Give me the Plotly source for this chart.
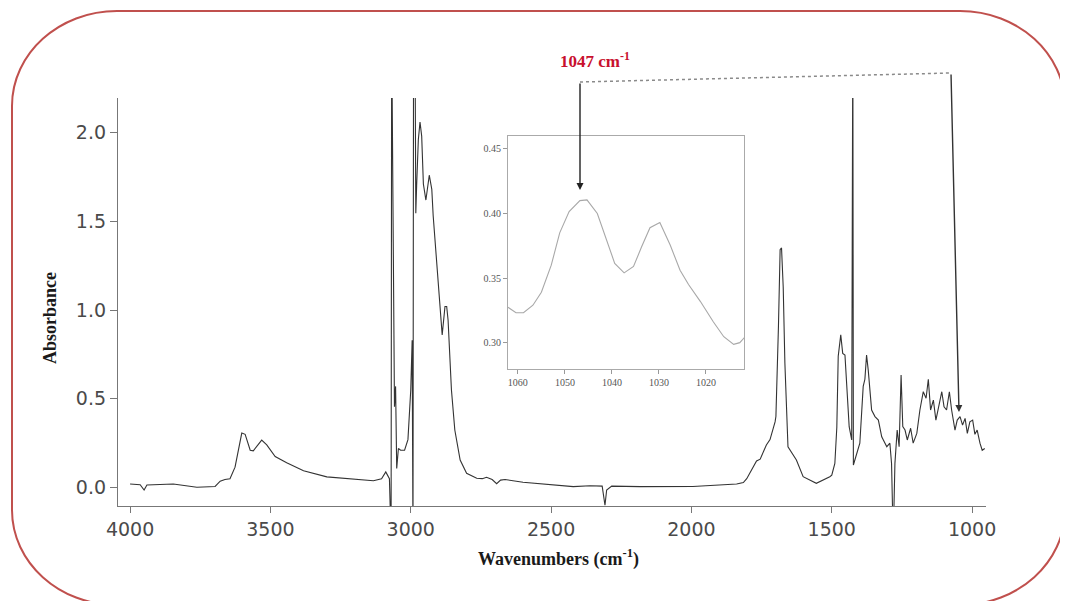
import plotly.graph_objects as go

# ---------------- data ----------------
wavenumber = [4000, 3964, 3950, 3940, 3846, 3762, 3697, 3679, 3662, 3644, 3626, 3602, 3590, 3572,
              3561, 3531, 3513, 3483, 3442, 3382, 3299, 3204, 3133, 3104, 3089, 3076, 3070, 3068,
              3058, 3054, 3050, 3044, 3036, 3022, 3010, 3000, 2995, 2992, 2990, 2985, 2982, 2979,
              2973, 2967, 2961, 2955, 2946, 2934, 2925, 2920, 2908, 2896, 2888, 2878, 2872, 2867,
              2855, 2843, 2824, 2801, 2765, 2745, 2730, 2710, 2694, 2680, 2664, 2600, 2539, 2480,
              2421, 2361, 2318, 2308, 2302, 2284, 2183, 1995, 1898, 1839, 1815, 1803, 1768, 1755,
              1733, 1720, 1702, 1699, 1690, 1684, 1679, 1673, 1667, 1656, 1626, 1602, 1555, 1542,
              1507, 1500, 1489, 1482, 1477, 1468, 1461, 1453, 1447, 1438, 1429, 1425, 1423, 1411,
              1400, 1388, 1382, 1376, 1370, 1358, 1346, 1334, 1322, 1304, 1293, 1287, 1281, 1275,
              1267, 1260, 1253, 1247, 1239, 1231, 1219, 1210, 1197, 1186, 1174, 1164, 1156, 1148,
              1138, 1129, 1118, 1108, 1100, 1091, 1081, 1073, 1061, 1053, 1043, 1034, 1025, 1017,
              1008, 998, 990, 982, 972, 964, 955]
absorbance = [0.020, 0.016, -0.014, 0.014, 0.020, 0.002, 0.006, 0.036, 0.045, 0.050, 0.115, 0.307, 0.300, 0.210,
              0.207, 0.267, 0.240, 0.175, 0.140, 0.095, 0.060, 0.049, 0.038, 0.050, 0.088, 0.050, -0.30, 2.60,
              0.455, 0.570, 0.108, 0.220, 0.210, 0.210, 0.270, 0.550, 0.830, -0.30, 2.60, 2.60, 1.545, 1.70,
              1.96, 2.06, 1.98, 1.71, 1.62, 1.76, 1.68, 1.53, 1.26, 1.04, 0.86, 1.02, 1.02, 0.944,
              0.55, 0.324, 0.155, 0.080, 0.052, 0.050, 0.058, 0.045, 0.022, 0.042, 0.045, 0.030, 0.022, 0.012,
              0.005, 0.010, 0.008, -0.10, -0.014, 0.008, 0.005, 0.006, 0.014, 0.020, 0.028, 0.050, 0.150, 0.160,
              0.240, 0.270, 0.370, 0.400, 0.906, 1.34, 1.35, 1.13, 0.70, 0.23, 0.155, 0.061, 0.024, 0.033,
              0.061, 0.070, 0.136, 0.340, 0.740, 0.860, 0.756, 0.747, 0.606, 0.343, 0.268, 2.60, 0.127, 0.190,
              0.250, 0.570, 0.610, 0.747, 0.660, 0.437, 0.400, 0.380, 0.286, 0.230, 0.250, 0.136, -0.30, 0.136,
              0.324, 0.230, 0.634, 0.343, 0.324, 0.268, 0.334, 0.250, 0.305, 0.437, 0.540, 0.503, 0.610, 0.437,
              0.493, 0.380, 0.455, 0.540, 0.455, 0.437, 0.540, 0.437, 0.324, 0.380, 0.400, 0.352, 0.390, 0.305,
              0.370, 0.380, 0.300, 0.324, 0.250, 0.210, 0.220]

inset_wavenumber = [1062.1, 1060.4, 1058.8, 1056.8, 1055.0, 1052.9, 1051.1, 1049.1, 1046.8, 1045.3,
                    1043.1, 1041.3, 1039.4, 1037.4, 1035.4, 1033.7, 1031.9, 1029.8, 1027.6, 1025.5,
                    1023.7, 1021.2, 1018.4, 1016.2, 1014.1, 1012.8, 1011.8]
inset_absorbance = [0.3274, 0.3232, 0.3232, 0.329, 0.339, 0.360, 0.385, 0.4015, 0.410, 0.4105,
                    0.400, 0.381, 0.3614, 0.354, 0.359, 0.374, 0.389, 0.393, 0.3756, 0.356,
                    0.345, 0.332, 0.316, 0.3046, 0.2987, 0.300, 0.304]

main_xticks = [4000, 3500, 3000, 2500, 2000, 1500, 1000]
main_yticks = [0.0, 0.5, 1.0, 1.5, 2.0]
inset_xticks = [1060, 1050, 1040, 1030, 1020]
inset_yticks = [0.30, 0.35, 0.40, 0.45]
peak_label = "1047 cm<sup>-1</sup>"
x_title = "Wavenumbers (cm<sup>-1</sup>)"
y_title = "Absorbance"

# ---------------- layout helpers (page has an 8px body margin) ----------------
OFF = 8
W, H = 1060, 593
# plot area in page pixels: x 118..986, y 98..506
ML, MT = 118 - OFF, 98 - OFF
MR, MB = W - (986 - OFF), H - (506 - OFF)
PW, PH = W - ML - MR, H - MT - MB


def fx(px):
    return (px - OFF - ML) / PW


def fy(py):
    return 1 - (py - OFF - MT) / PH


fig = go.Figure()
fig.add_trace(go.Scatter(x=wavenumber, y=absorbance, mode="lines",
                         line=dict(color="#333333", width=1.1), showlegend=False,
                         xaxis="x", yaxis="y"))
fig.add_trace(go.Scatter(x=inset_wavenumber, y=inset_absorbance, mode="lines",
                         line=dict(color="#a8a8a8", width=1.1), showlegend=False,
                         xaxis="x2", yaxis="y2"))

sans = "DejaVu Sans"
serif = "Liberation Serif"

fig.update_layout(
    width=W, height=H,
    margin=dict(l=ML, r=MR, t=MT, b=MB),
    paper_bgcolor="white", plot_bgcolor="white",
    xaxis=dict(range=[4043, 950.5], tickvals=main_xticks, ticks="outside", ticklen=6,
               tickcolor="#777", showline=True, linecolor="#777", linewidth=1.3,
               showgrid=False, zeroline=False,
               tickfont=dict(family=sans, size=19, color="#4a4a4a")),
    yaxis=dict(range=[-0.104, 2.195], tickvals=main_yticks, tickformat=".1f", ticks="outside",
               ticklen=7, tickcolor="#777", showline=True, linecolor="#777", linewidth=1.3,
               showgrid=False, zeroline=False,
               tickfont=dict(family=sans, size=19, color="#4a4a4a")),
    xaxis2=dict(domain=[fx(508), fx(744)], anchor="y2", range=[1062.1, 1011.9],
                tickvals=inset_xticks, ticks="outside", ticklen=4, tickcolor="#999",
                showline=True, mirror=True, linecolor="#aaa", linewidth=1,
                showgrid=False, zeroline=False,
                tickfont=dict(family=serif, size=10, color="#555")),
    yaxis2=dict(domain=[fy(369), fy(136)], anchor="x2", range=[0.2796, 0.460],
                tickvals=inset_yticks, tickformat=".2f", ticks="outside", ticklen=4,
                tickcolor="#999", showline=True, mirror=True, linecolor="#aaa", linewidth=1,
                showgrid=False, zeroline=False,
                tickfont=dict(family=serif, size=10, color="#555")),
)

# rounded frame (page pixels)
L, T, R, B = 12, 11, 1065, 605
rx, ry, k = 105, 95, 0.5523


def P(px, py):
    return f"{fx(px):.5f},{fy(py):.5f}"


path = (f"M {P(L + rx, T)} L {P(R - rx, T)} "
        f"C {P(R - rx + k * rx, T)} {P(R, T + ry - k * ry)} {P(R, T + ry)} "
        f"L {P(R, B - ry)} "
        f"C {P(R, B - ry + k * ry)} {P(R - rx + k * rx, B)} {P(R - rx, B)} "
        f"L {P(L + rx, B)} "
        f"C {P(L + rx - k * rx, B)} {P(L, B - ry + k * ry)} {P(L, B - ry)} "
        f"L {P(L, T + ry)} "
        f"C {P(L, T + ry - k * ry)} {P(L + rx - k * rx, T)} {P(L + rx, T)} Z")
fig.add_shape(type="path", path=path, xref="paper", yref="paper",
              line=dict(color="#c0504d", width=2), layer="below")

# dotted connector
fig.add_shape(type="line", xref="paper", yref="paper",
              x0=fx(580), y0=fy(82), x1=fx(951), y1=fy(73),
              line=dict(color="#8a8a8a", width=1.5, dash="dot"))

# arrows
fig.add_annotation(xref="paper", yref="paper", x=fx(580), y=fy(190), ax=0, ay=-108,
                   text="", showarrow=True, arrowhead=2, arrowsize=1, arrowwidth=1.4,
                   arrowcolor="#222")
fig.add_annotation(xref="paper", yref="paper", x=fx(959), y=fy(412), ax=-8, ay=-339,
                   text="", showarrow=True, arrowhead=2, arrowsize=1, arrowwidth=1.4,
                   arrowcolor="#333")

# texts
fig.add_annotation(xref="paper", yref="paper", x=fx(595), y=fy(60), text=f"<b>{peak_label}</b>",
                   xanchor="center", yanchor="middle",
                   showarrow=False, font=dict(family=serif, size=17, color="#c8102e"))
fig.add_annotation(xref="paper", yref="paper", x=fx(558), y=fy(558), text=f"<b>{x_title}</b>",
                   xanchor="center", yanchor="middle",
                   showarrow=False, font=dict(family=serif, size=18, color="#1a1a1a"))
fig.add_annotation(xref="paper", yref="paper", x=fx(50), y=fy(318), text=f"<b>{y_title}</b>",
                   xanchor="center", yanchor="middle",
                   textangle=-90, showarrow=False, font=dict(family=serif, size=18, color="#1a1a1a"))

fig.write_html("out.html")
